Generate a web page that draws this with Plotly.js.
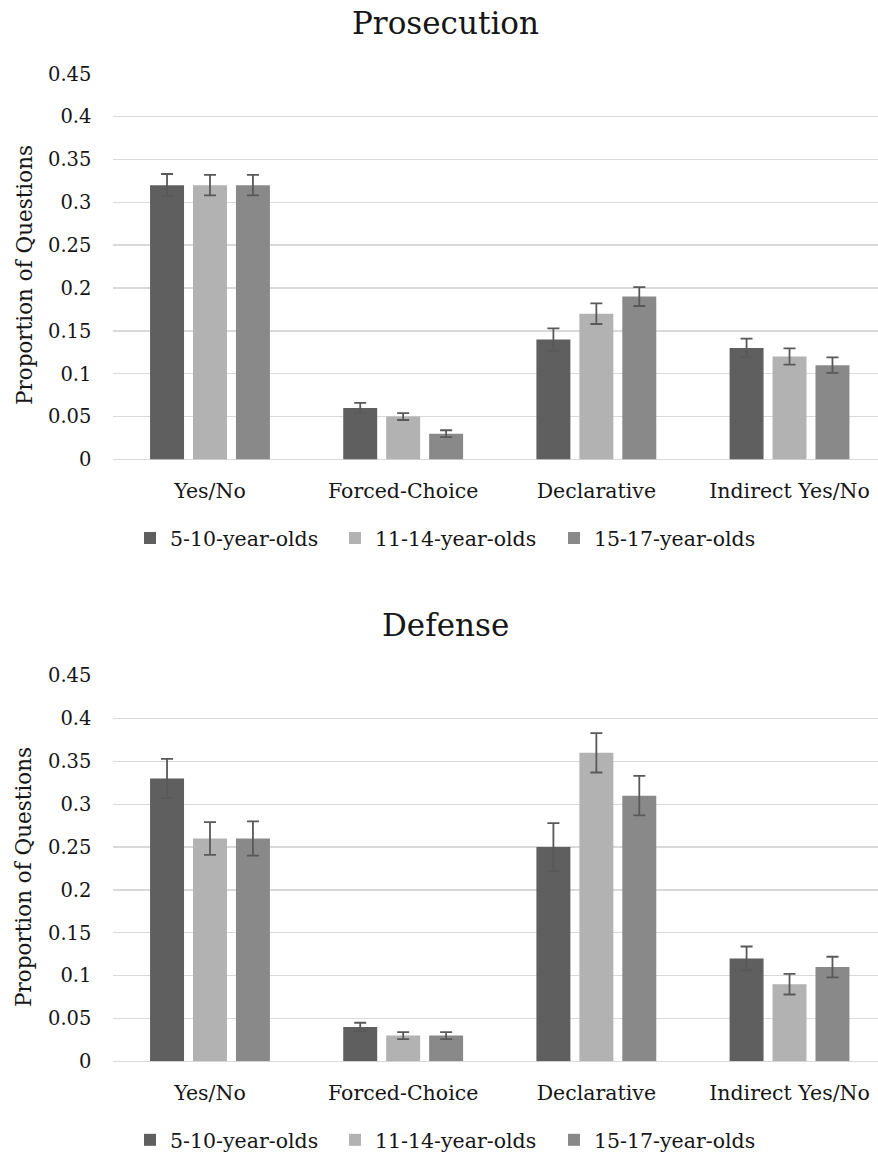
<!DOCTYPE html>
<html>
<head>
<meta charset="utf-8">
<script src="https://cdn.plot.ly/plotly-3.0.1.min.js"></script>
<style>
  html, body { margin: 0; padding: 0; background: #ffffff; }
  #chart { width: 878px; height: 1160px; }
</style>
</head>
<body>
<div id="chart"></div>
<script>
// Question types on the x axis
const categories = ['Yes/No', 'Forced-Choice', 'Declarative', 'Indirect Yes/No'];
// Age groups (one bar series each)
const ageGroups = ['5-10-year-olds', '11-14-year-olds', '15-17-year-olds'];

// Prosecution: proportion of questions and error margins
const prosecution5to10 = [0.32, 0.06, 0.14, 0.13];
const prosecution11to14 = [0.32, 0.05, 0.17, 0.12];
const prosecution15to17 = [0.32, 0.03, 0.19, 0.11];
const prosecutionErr5to10 = [0.013, 0.006, 0.013, 0.011];
const prosecutionErr11to14 = [0.012, 0.004, 0.012, 0.0095];
const prosecutionErr15to17 = [0.012, 0.004, 0.011, 0.009];

// Defense: proportion of questions and error margins
const defense5to10 = [0.33, 0.04, 0.25, 0.12];
const defense11to14 = [0.26, 0.03, 0.36, 0.09];
const defense15to17 = [0.26, 0.03, 0.31, 0.11];
const defenseErr5to10 = [0.023, 0.005, 0.028, 0.014];
const defenseErr11to14 = [0.019, 0.004, 0.023, 0.012];
const defenseErr15to17 = [0.020, 0.004, 0.023, 0.012];

// Y axis ticks
const yTickValues = [0, 0.05, 0.1, 0.15, 0.2, 0.25, 0.3, 0.35, 0.4, 0.45];
const yTickLabels = ['0', '0.05', '0.1', '0.15', '0.2', '0.25', '0.3', '0.35', '0.4', '0.45'];

const panelTitles = ['Prosecution', 'Defense'];
const yAxisTitle = 'Proportion of Questions';

const FONT = '"DejaVu Serif", "Liberation Serif", serif';
const TEXT = '#161616';
const GRID = '#d9d9d9';
const barColors = ['#5f5f5f', '#b2b2b2', '#898989'];
const legendWidths = [160, 174, 160];

function series(values, errors, i, xa, ya, legendId) {
  return {
    type: 'bar',
    name: ageGroups[i],
    x: categories,
    y: values,
    xaxis: xa,
    yaxis: ya,
    legend: legendId,
    legendwidth: legendWidths[i],
    marker: { color: barColors[i], line: { width: 0 } },
    error_y: {
      type: 'data',
      array: errors,
      visible: true,
      color: '#595959',
      thickness: 1.8,
      width: 6
    },
    hoverinfo: 'x+y+name'
  };
}

const data = [
  series(prosecution5to10, prosecutionErr5to10, 0, 'x', 'y', 'legend'),
  series(prosecution11to14, prosecutionErr11to14, 1, 'x', 'y', 'legend'),
  series(prosecution15to17, prosecutionErr15to17, 2, 'x', 'y', 'legend'),
  series(defense5to10, defenseErr5to10, 0, 'x2', 'y2', 'legend2'),
  series(defense11to14, defenseErr11to14, 1, 'x2', 'y2', 'legend2'),
  series(defense15to17, defenseErr15to17, 2, 'x2', 'y2', 'legend2')
];

const W = 878, H = 1160;
const plotLeft = 113.4 / W;

function xAxis(anchor) {
  return {
    domain: [plotLeft, 1],
    anchor: anchor,
    type: 'category',
    range: [-0.5, 3.458],
    showgrid: false,
    showline: false,
    zeroline: false,
    ticks: '',
    ticklabelstandoff: 17,
    tickfont: { family: FONT, size: 20.5, color: TEXT },
    fixedrange: true
  };
}

function yAxis(anchor, domain) {
  return {
    domain: domain,
    anchor: anchor,
    range: [0, 0.45],
    tickmode: 'array',
    tickvals: yTickValues,
    ticktext: yTickLabels,
    showgrid: true,
    gridcolor: GRID,
    gridwidth: 1.4,
    zeroline: true,
    zerolinecolor: GRID,
    zerolinewidth: 1.4,
    showline: false,
    ticks: '',
    ticklabelstandoff: 21,
    tickfont: { family: FONT, size: 19.5, color: TEXT },
    fixedrange: true
  };
}

function legendBox(yCenter) {
  return {
    orientation: 'h',
    x: 130 / W,
    xanchor: 'left',
    y: 1 - yCenter / H,
    yanchor: 'middle',
    font: { family: FONT, size: 20.5, color: TEXT },
    bgcolor: 'rgba(0,0,0,0)',
    borderwidth: 0,
    traceorder: 'normal'
  };
}

const layout = {
  width: W,
  height: H,
  margin: { l: 0, r: 0, t: 0, b: 0 },
  paper_bgcolor: '#ffffff',
  plot_bgcolor: '#ffffff',
  barmode: 'group',
  bargap: 0.333,
  bargroupgap: 0.209,
  showlegend: true,
  xaxis: xAxis('y'),
  yaxis: yAxis('x', [1 - 461 / H, 1 - 74 / H]),
  xaxis2: xAxis('y2'),
  yaxis2: yAxis('x2', [1 - 1065 / H, 1 - 678 / H]),
  legend: legendBox(540),
  legend2: legendBox(1144),
  annotations: [
    { text: panelTitles[0], xref: 'paper', yref: 'paper', x: 445 / W, y: 1 - 23 / H,
      xanchor: 'center', yanchor: 'middle', showarrow: false,
      font: { family: FONT, size: 31, color: TEXT } },
    { text: panelTitles[1], xref: 'paper', yref: 'paper', x: 445 / W, y: 1 - 627 / H,
      xanchor: 'center', yanchor: 'middle', showarrow: false,
      font: { family: FONT, size: 31, color: TEXT } },
    { text: yAxisTitle, xref: 'paper', yref: 'paper', x: 24 / W, y: 1 - 276 / H,
      xanchor: 'center', yanchor: 'middle', textangle: -90, showarrow: false,
      font: { family: FONT, size: 21.5, color: TEXT } },
    { text: yAxisTitle, xref: 'paper', yref: 'paper', x: 24 / W, y: 1 - 880 / H,
      xanchor: 'center', yanchor: 'middle', textangle: -90, showarrow: false,
      font: { family: FONT, size: 21.5, color: TEXT } }
  ]
};

Plotly.newPlot('chart', data, layout, { staticPlot: true, displayModeBar: false });
</script>
</body>
</html>
